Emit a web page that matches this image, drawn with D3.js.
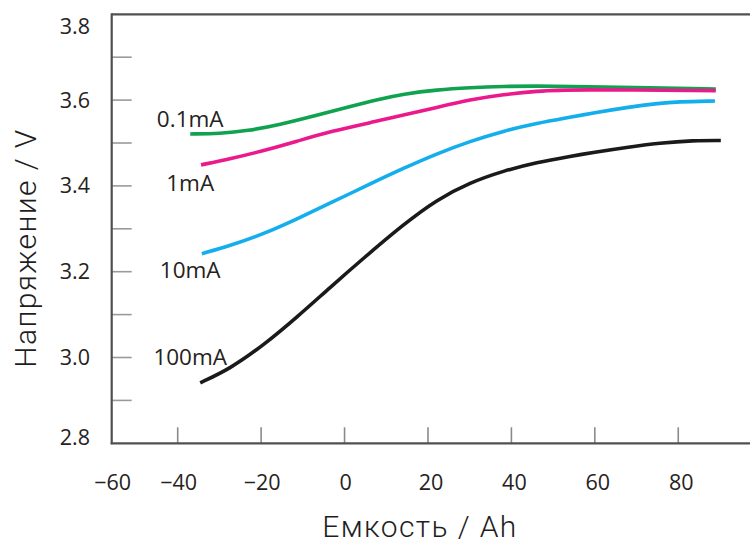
<!DOCTYPE html>
<html>
<head>
<meta charset="utf-8">
<script src="https://cdn.jsdelivr.net/npm/d3@7"></script>
<style>
  html, body { margin: 0; padding: 0; background: #fff; }
  svg { display: block; }
</style>
</head>
<body>
<svg id="chart" width="750" height="545"></svg>
<script>
// ---- data ----
const seriesNames = ["0.1mA", "1mA", "10mA", "100mA"];
const seriesColors = ["#10a24f", "#ea1a8c", "#14aeec", "#1a1a1a"];

const cap01 = [-37.0, -29.8, -23.4, -15.4, -7.4, 0.6, 7.8, 14.1, 22.1, 30.1, 38.1, 46.1, 54.1, 89.0];
const volt01 = [3.521, 3.522, 3.528, 3.543, 3.563, 3.583, 3.601, 3.614, 3.624, 3.629, 3.632, 3.633, 3.632, 3.626];

const cap1 = [-34.4, -27.4, -19.4, -11.4, -3.4, 7.8, 14.1, 22.1, 30.1, 38.1, 46.1, 54.1, 89.0];
const volt1 = [3.449, 3.463, 3.482, 3.504, 3.527, 3.551, 3.565, 3.583, 3.601, 3.613, 3.621, 3.625, 3.622];

const cap10 = [-34.2, -27.4, -19.4, -11.4, -3.4, 6.2, 14.1, 22.1, 30.1, 38.1, 46.1, 54.1, 59.6, 67.6, 75.6, 79.6, 88.8];
const volt10 = [3.242, 3.261, 3.288, 3.323, 3.360, 3.405, 3.441, 3.475, 3.504, 3.528, 3.546, 3.560, 3.570, 3.583, 3.593, 3.596, 3.598];

const cap100 = [-34.6, -27.4, -19.4, -11.4, -3.4, 4.6, 14.1, 22.1, 30.1, 38.1, 46.1, 54.1, 59.6, 67.6, 75.6, 83.6, 90.2];
const volt100 = [2.941, 2.974, 3.029, 3.094, 3.164, 3.232, 3.310, 3.368, 3.408, 3.435, 3.455, 3.469, 3.478, 3.490, 3.500, 3.506, 3.506];

const seriesCaps = [cap01, cap1, cap10, cap100];
const seriesVolts = [volt01, volt1, volt10, volt100];

// label anchor (capacity, voltage) for each series label
const labelCap = [-37.0, -37.0, -37.0, -37.0];
const labelVolt = [3.538, 3.389, 3.185, 2.982];

const xTickValues = [-60, -40, -20, 0, 20, 40, 60, 80];
const yMajorTicks = [2.8, 3.0, 3.2, 3.4, 3.6, 3.8];
const yMinorTicks = [2.9, 3.0, 3.1, 3.2, 3.3, 3.4, 3.5, 3.6, 3.7];

const xTitle = "Емкость / Ah";
const yTitle = "Напряжение / V";

// ---- chart ----
const svg = d3.select("#chart");
const mLeft = 111.7, mRight = 750, mTop = 14.3, mBottom = 443.3;

// the original axis starts at -60 but is compressed on its first interval
const x = d3.scaleLinear().domain([-60, -40, 97.2]).range([mLeft, 177.7, mRight]);
const y = d3.scaleLinear().domain([2.8, 3.8]).range([mBottom, mTop]);

const labelFont = "'Open Sans', 'DejaVu Sans', sans-serif";
const textColor = "#262220";

// y minor ticks (inward)
svg.append("g")
  .selectAll("line")
  .data(yMinorTicks)
  .join("line")
  .attr("x1", mLeft).attr("x2", mLeft + 20)
  .attr("y1", d => y(d)).attr("y2", d => y(d))
  .attr("stroke", "#9a9a9a").attr("stroke-width", 1.6);

// x ticks (inward, upward)
svg.append("g")
  .selectAll("line")
  .data(xTickValues.filter(d => d > -60))
  .join("line")
  .attr("x1", d => x(d)).attr("x2", d => x(d))
  .attr("y1", mBottom).attr("y2", mBottom - 16)
  .attr("stroke", "#8a8a8a").attr("stroke-width", 1.6);

// frame lines
svg.append("line").attr("x1", mLeft).attr("x2", mRight).attr("y1", mTop).attr("y2", mTop)
  .attr("stroke", "#505050").attr("stroke-width", 2.2);
svg.append("line").attr("x1", mLeft).attr("x2", mLeft).attr("y1", mTop - 1).attr("y2", mBottom + 1)
  .attr("stroke", "#505050").attr("stroke-width", 2.2);
svg.append("line").attr("x1", mLeft - 1).attr("x2", mRight).attr("y1", mBottom).attr("y2", mBottom)
  .attr("stroke", "#505050").attr("stroke-width", 2.2);

// y tick labels
svg.append("g")
  .selectAll("text")
  .data(yMajorTicks)
  .join("text")
  .attr("x", 90)
  .attr("y", d => y(d) + (d === 3.8 ? 12 : d === 2.8 ? -6 : 0))
  .attr("dy", "0.35em")
  .attr("text-anchor", "end")
  .attr("font-family", labelFont)
  .attr("font-weight", 500)
  .attr("font-size", 21.5)
  .attr("fill", textColor)
  .text(d => d3.format(".1f")(d));

// x tick labels
svg.append("g")
  .selectAll("text")
  .data(xTickValues)
  .join("text")
  .attr("x", d => x(d) + (d > 0 ? 3 : 1))
  .attr("y", 490)
  .attr("text-anchor", "middle")
  .attr("font-family", labelFont)
  .attr("font-weight", 500)
  .attr("font-size", 21.5)
  .attr("fill", textColor)
  .text(d => d3.format("d")(d));

// lines
const line = d3.line()
  .x(d => x(d[0]))
  .y(d => y(d[1]))
  .curve(d3.curveBasis);

seriesNames.forEach((name, i) => {
  const pts = seriesCaps[i].map((c, j) => [c, seriesVolts[i][j]]);
  svg.append("path")
    .datum(pts)
    .attr("d", line)
    .attr("fill", "none")
    .attr("stroke", seriesColors[i])
    .attr("stroke-width", 3.6)
    .attr("stroke-linecap", "butt");
});

// series labels
svg.append("g")
  .selectAll("text")
  .data(seriesNames)
  .join("text")
  .attr("x", (d, i) => x(labelCap[i]))
  .attr("y", (d, i) => y(labelVolt[i]))
  .attr("text-anchor", "middle")
  .attr("font-family", labelFont)
  .attr("font-weight", 500)
  .attr("font-size", 22.5)
  .attr("fill", textColor)
  .text(d => d);

// axis titles
const titleFont = "Roboto, 'Open Sans', sans-serif";
svg.append("text")
  .attr("x", 420).attr("y", 537)
  .attr("text-anchor", "middle")
  .attr("font-family", titleFont)
  .attr("font-weight", 300)
  .attr("font-size", 30)
  .attr("letter-spacing", 1.4)
  .attr("fill", "#1e1e1e")
  .text(xTitle);

svg.append("text")
  .attr("transform", "translate(36,248) rotate(-90)")
  .attr("text-anchor", "middle")
  .attr("font-family", titleFont)
  .attr("font-weight", 300)
  .attr("font-size", 30)
  .attr("letter-spacing", 1.4)
  .attr("fill", "#1e1e1e")
  .text(yTitle);
</script>
</body>
</html>
